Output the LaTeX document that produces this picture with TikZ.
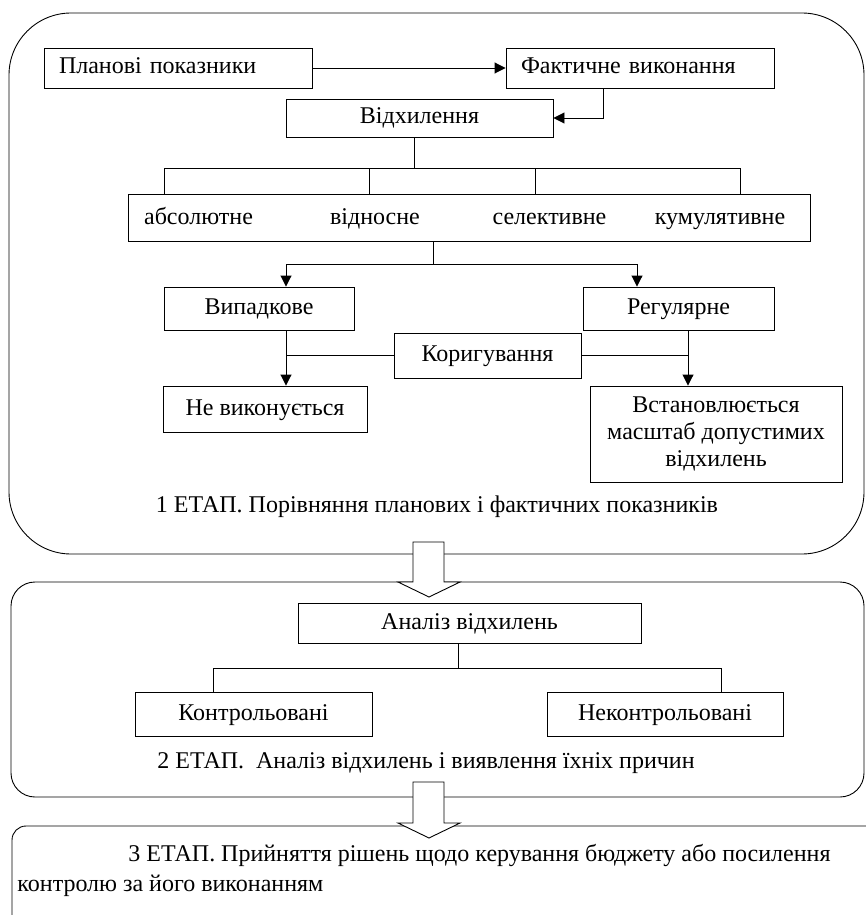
\documentclass[tikz,border=0pt]{standalone}
\usepackage{fontspec}
\setmainfont{Liberation Serif}
\usetikzlibrary{arrows.meta,positioning,calc}

\begin{document}
\begin{tikzpicture}[x=1pt, y=-1pt, line width=0.9pt,
  every node/.style={font=\fontsize{24}{30}\selectfont},
  txt/.style={text height=17pt, text depth=5pt},
  box/.style={draw, inner sep=0pt, minimum height=40pt},
  tbox/.style={box, txt},
  lbox/.style={tbox, text width=238pt, inner xsep=15pt, align=left},
  frame/.style={draw},
  >={Triangle[length=11pt,width=11pt]}]
  \useasboundingbox (0,0) rectangle (866,915);
  \clip (0,0) rectangle (866,915);

  \draw[frame, rounded corners=62pt] (9,13) rectangle (864,554);
  \draw[frame, rounded corners=24pt] (11,582) rectangle (864,797);
  \draw[frame, rounded corners=14pt] (12,826) rectangle (890,935);
  \foreach \t/\h in {542/40,782/41}
    \draw[fill=white] (413,\t) -- (444,\t) -- (444,\t+\h) -- (460,\t+\h)
      -- (429,\t+\h+15) -- (398,\t+\h) -- (413,\t+\h) -- cycle;

  \node[lbox] (plan) at (178,68) {Планові показники};
  \node[lbox] (fact) at (640,68) {Фактичне виконання};
  \node[tbox, minimum width=267pt, minimum height=38pt] (dev) at (419.5,118) {Відхилення};
  \node[box, minimum width=682pt, minimum height=47pt] (kinds) at (469,217.5) {};
  \node[txt] (abs) at (198.5,218) {абсолютне};
  \node[txt] (rel) at (375,218) {відносне};
  \node[txt] (sel) at (549.5,218) {селективне};
  \node[txt] (cum) at (720,218) {кумулятивне};
  \node[tbox, minimum width=190pt, minimum height=43pt] (rand) at (259,308.5) {Випадкове};
  \node[tbox, minimum width=191pt, minimum height=43pt] (reg) at (678.5,308.5) {Регулярне};
  \node[tbox, minimum width=187pt, minimum height=45pt] (corr) at (487.5,355.5) {Коригування};
  \node[tbox, minimum width=204pt, minimum height=46pt] (skip) at (265,409) {Не виконується};
  \node[box, minimum width=252pt, minimum height=96pt, align=center,
    font=\fontsize{24}{27}\selectfont] (scale) at (716,434)
    {Встановлюється\\масштаб допустимих\\відхилень};
  \node[txt] (st1) at (437,506) {1 ЕТАП. Порівняння планових і фактичних показників};

  \node[tbox, minimum width=343pt] (an) at (469.5,623) {Аналіз відхилень};
  \node[tbox, minimum width=237pt, minimum height=44pt] (ctrl) at (253.5,714) {Контрольовані};
  \node[tbox, minimum width=236pt, minimum height=44pt] (unctrl) at (665,714) {Неконтрольовані};
  \node[txt] (st2) at (426,762) {2 ЕТАП.~ Аналіз відхилень і виявлення їхніх причин};

  \node[anchor=west, align=left, inner sep=0pt] (st3) at (17,870)
    {\hspace*{111pt}3 ЕТАП. Прийняття рішень щодо керування бюджету або посилення\\контролю за його виконанням};

  \coordinate (down) at (603,116);
  \foreach \x [count=\i] in {164,369,535,740}
    \coordinate (leg\i) at (\x,168);
  \coordinate (split) at (433,264);
  \coordinate (lft) at (286,264);
  \coordinate (rgt) at (637,264);
  \coordinate (lane) at (688,330);
  \coordinate (split2) at (458,668);
  \coordinate (cl) at (213,668);
  \coordinate (cr) at (721,668);

  \path[->]
  (plan) edge (fact)
  (fact.south -| down) edge[to path={|- (\tikztotarget)}] (dev.east);
  \draw (dev.south -| 414,0) -- (leg1 -| 414,0) (leg1) -- (leg4);
  \foreach \i in {1,...,4}
    \draw (leg\i) -- (leg\i |- kinds.north);
  \draw (split |- kinds.south) -- (split);
  \draw[->] (split) -- (lft) -- (lft |- rand.north);
  \draw[->] (split) -- (rgt) -- (rgt |- reg.north);
  \draw[->] (lft |- rand.south) -- (lft |- skip.north);
  \draw (corr.west) -- (corr.west -| lft);
  \draw[->] (lane |- reg.south) -- (lane |- scale.north);
  \draw (corr.east) -- (corr.east -| lane);

  \draw (split2 |- an.south) -- (split2) (cl) -- (cr);
  \draw (cl) -- (cl |- ctrl.north) (cr) -- (cr |- unctrl.north);
\end{tikzpicture}
\end{document}
